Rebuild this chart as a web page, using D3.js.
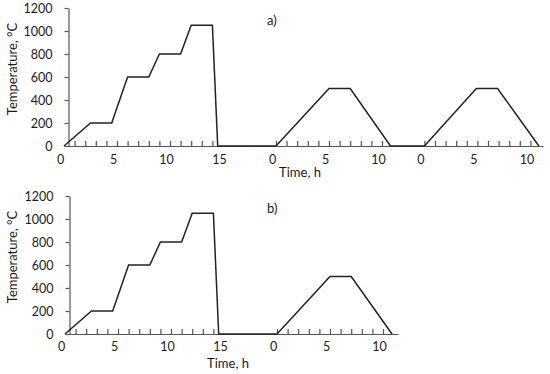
<!DOCTYPE html>
<html>
<head>
<meta charset="utf-8">
<script src="https://cdn.jsdelivr.net/npm/d3@7"></script>
<style>
  body { margin: 0; background: #fff; }
  svg text { font-family: Lato, "Open Sans", sans-serif; fill: #1a1a1a; }
  .axis path, .axis line { stroke: #555; stroke-width: 1.2; }
  .trace { fill: none; stroke: #222; stroke-width: 1.5; stroke-linejoin: miter; }
</style>
</head>
<body>
<svg id="chart" width="550" height="374"></svg>
<script>
// Panel a) : heat treatment followed by two tempering cycles
const hoursA = [0, 2.5, 4.5, 6, 8, 9, 11, 12, 14, 14.5, 20, 25, 27, 30.8, 34, 38.9, 40.9, 44.8];
const tempsA = [0, 200, 200, 600, 600, 800, 800, 1050, 1050, 0, 0, 500, 500, 0, 0, 500, 500, 0];

// Panel b) : same treatment followed by one tempering cycle
const hoursB = [0, 2.5, 4.5, 6, 8, 9, 11, 12, 14, 14.5, 20, 25, 27, 30.85];
const tempsB = [0, 200, 200, 600, 600, 800, 800, 1050, 1050, 0, 0, 500, 500, 0];

// Minor ticks only where the furnace is working (hours on the shared time line)
const minorTicksA = [1, 2, 3, 4, 5, 6, 7, 8, 9, 10, 11, 12, 13, 14,
  20, 21, 22, 23, 24, 25, 26, 27, 28, 29, 30,
  34, 35, 36, 37, 38, 39, 40, 41, 42, 43, 44];
const minorTicksB = [1, 2, 3, 4, 5, 6, 7, 8, 9, 10, 11, 12, 13, 14,
  20, 21, 22, 23, 24, 25, 26, 27, 28, 29, 30];

// Each stage restarts its own clock
const labelHoursA = [0, 5, 10, 15, 20, 25, 30, 34, 39, 44];
const labelTextA = ['0', '5', '10', '15', '0', '5', '10', '0', '5', '10'];
const labelHoursB = [0, 5, 10, 15, 20, 25, 30];
const labelTextB = ['0', '5', '10', '15', '0', '5', '10'];

const tempTicks = [0, 200, 400, 600, 800, 1000, 1200];

const svg = d3.select('#chart');

/**
 * Draw one panel
 */
function drawPanel(opts) {
  const g = svg.append('g');

  const xScale = d3.scaleLinear()
    .domain([0, opts.maxHour])
    .range([opts.left, opts.left + opts.maxHour * 10.6]);
  const yScale = d3.scaleLinear()
    .domain([0, 1200])
    .range([opts.bottom, opts.bottom - 138]);

  // x axis: line + small inward ticks
  g.append('g')
    .attr('class', 'axis')
    .attr('transform', `translate(0,${opts.bottom})`)
    .call(d3.axisBottom(xScale)
      .tickValues(opts.minorTicks)
      .tickSizeInner(-5)
      .tickSizeOuter(0)
      .tickFormat(''));

  // x tick labels (no tick marks)
  const labelAxis = g.append('g')
    .attr('transform', `translate(0,${opts.bottom})`)
    .call(d3.axisBottom(xScale)
      .tickValues(opts.labelHours)
      .tickSize(0)
      .tickPadding(opts.labelPad)
      .tickFormat((_, i) => opts.labelText[i]));
  labelAxis.select('.domain').remove();
  labelAxis.selectAll('text')
    .attr('dx', -4)
    .style('font-size', '12.5px')
    .style('font-family', 'Lato, sans-serif');

  // y axis, sitting a little right of the time origin
  const yAxisG = g.append('g')
    .attr('class', 'axis')
    .attr('transform', `translate(${xScale(0) + 4.5},0)`)
    .call(d3.axisLeft(yScale)
      .tickValues(tempTicks)
      .tickSizeInner(4)
      .tickSizeOuter(0)
      .tickPadding(12)
      .tickFormat(d3.format('d')));
  yAxisG.selectAll('text')
    .style('font-size', '12.5px')
    .style('font-family', 'Lato, sans-serif');

  // Temperature trace
  const points = opts.hours.map((h, i) => [h, opts.temps[i]]);
  g.append('path')
    .attr('class', 'trace')
    .attr('d', d3.line()
      .x(d => xScale(d[0]))
      .y(d => yScale(d[1]))(points));

  // Titles
  g.append('text')
    .attr('x', opts.titleX)
    .attr('y', opts.bottom + opts.titleDy)
    .attr('text-anchor', 'middle')
    .style('font-size', '13px')
    .text('Time, h');

  g.append('text')
    .attr('transform', `translate(17,${opts.bottom - 77}) rotate(-90)`)
    .attr('text-anchor', 'middle')
    .style('font-size', '13px')
    .text('Temperature, °C');

  g.append('text')
    .attr('x', 267)
    .attr('y', opts.bottom - 121)
    .style('font-size', '13px')
    .text(opts.tag);
}

drawPanel({
  hours: hoursA, temps: tempsA, minorTicks: minorTicksA,
  labelHours: labelHoursA, labelText: labelTextA,
  maxHour: 45.2, left: 64, bottom: 146, titleX: 300, titleDy: 31, labelPad: 9, tag: 'a)',
});

drawPanel({
  hours: hoursB, temps: tempsB, minorTicks: minorTicksB,
  labelHours: labelHoursB, labelText: labelTextB,
  maxHour: 31.4, left: 65, bottom: 334, titleX: 228, titleDy: 34, labelPad: 8, tag: 'b)',
});
</script>
</body>
</html>
